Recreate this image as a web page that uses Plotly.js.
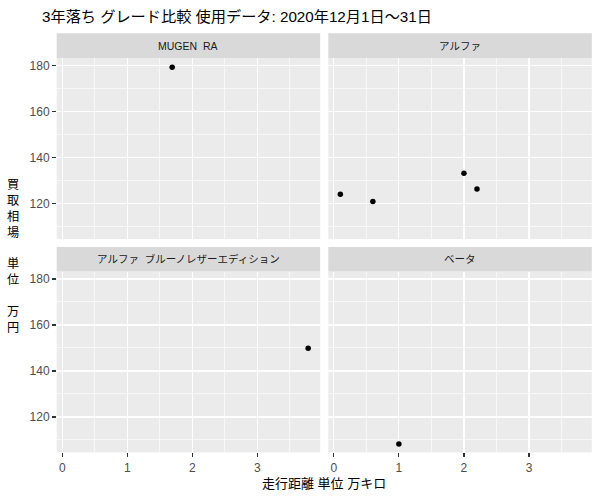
<!DOCTYPE html>
<html>
<head>
<meta charset="utf-8">
<script src="https://cdn.plot.ly/plotly-3.0.1.min.js"></script>
<style>html,body{margin:0;padding:0;background:#fff;}#chart{width:600px;height:500px;}</style>
</head>
<body>
<div id="chart"></div>
<script>
// ---- data ----
const grades = ['MUGEN\u00A0\u00A0RA', 'アルファ', 'アルファ\u00A0\u00A0ブルーノレザーエディション', 'ベータ'];
const mugenX = [1.69];
const mugenY = [179.3];
const alphaX = [0.1, 0.6, 2.0, 2.2];
const alphaY = [124.1, 121.0, 133.2, 126.4];
const blueX = [3.78];
const blueY = [149.9];
const betaX = [1.0];
const betaY = [108.3];
const xTickVals = [0, 1, 2, 3];
const yTickVals = [120, 140, 160, 180];
const titleText = '3年落ち グレード比較 使用データ: 2020年12月1日～31日';
const xTitle = '走行距離 単位 万キロ';
const yTitle = '買<br>取<br>相<br>場<br><br>単<br>位<br><br>万<br>円';

const W = 600, H = 500;
const FONT = 'Liberation Sans, Arial, Noto Sans CJK JP, sans-serif';
const px = v => v / W;
const py = v => 1 - v / H;

const colL = [px(56.7), px(320.2)], colR = [px(328.3), px(591.8)];
const rowT = [py(239.1), py(58.3)], rowB = [py(452.4), py(271.6)];
const stripT = [py(58.3), py(33.3)], stripB = [py(271.6), py(247)];
const xRange = [-0.085, 3.965], yRange = [104.6, 183.2];

const series = [[mugenX, mugenY], [alphaX, alphaY], [blueX, blueY], [betaX, betaY]];
const axisIds = ['', '2', '3', '4'];
const traces = series.map((s, i) => ({
  type: 'scatter', mode: 'markers', x: s[0], y: s[1],
  xaxis: 'x' + axisIds[i], yaxis: 'y' + axisIds[i],
  marker: {color: '#000000', size: 5.5}, showlegend: false, hoverinfo: 'skip'
}));

function xa(domain, showLabels) {
  return {
    domain: domain, range: xRange,
    tickvals: xTickVals, ticktext: xTickVals.map(String),
    showticklabels: showLabels, ticks: showLabels ? 'outside' : '',
    ticklen: 3.7, tickwidth: 1.1, tickcolor: '#333333',
    tickfont: {family: FONT, size: 12, color: '#4D4D4D'},
    showgrid: true, gridcolor: '#FFFFFF', gridwidth: 1.2,
    minor: {dtick: 0.5, tick0: 0.5, showgrid: true, gridcolor: '#FFFFFF', gridwidth: 0.6, ticks: ''},
    zeroline: false, showline: false, fixedrange: true
  };
}
function ya(domain, showLabels) {
  return {
    domain: domain, range: yRange,
    tickvals: yTickVals, ticktext: yTickVals.map(String),
    showticklabels: showLabels, ticks: showLabels ? 'outside' : '',
    ticklen: 3.7, tickwidth: 1.1, tickcolor: '#333333',
    tickfont: {family: FONT, size: 12, color: '#4D4D4D'},
    showgrid: true, gridcolor: '#FFFFFF', gridwidth: 1.2,
    minor: {dtick: 20, tick0: 110, showgrid: true, gridcolor: '#FFFFFF', gridwidth: 0.6, ticks: ''},
    zeroline: false, showline: false, fixedrange: true
  };
}

const layout = {
  width: W, height: H,
  margin: {l: 0, r: 0, t: 0, b: 0},
  paper_bgcolor: '#FFFFFF', plot_bgcolor: '#EBEBEB',
  font: {family: FONT, color: '#000000'},
  title: {text: titleText, x: 42 / W, xanchor: 'left', xref: 'container',
          y: 1 - 17 / H, yanchor: 'middle', yref: 'container',
          font: {family: FONT, size: 15.2, color: '#000000'}},
  xaxis:  Object.assign(xa(colL, false), {anchor: 'y'}),
  yaxis:  Object.assign(ya(rowT, true), {anchor: 'x'}),
  xaxis2: Object.assign(xa(colR, false), {anchor: 'y2'}),
  yaxis2: Object.assign(ya(rowT, false), {anchor: 'x2'}),
  xaxis3: Object.assign(xa(colL, true), {anchor: 'y3'}),
  yaxis3: Object.assign(ya(rowB, true), {anchor: 'x3'}),
  xaxis4: Object.assign(xa(colR, true), {anchor: 'y4'}),
  yaxis4: Object.assign(ya(rowB, false), {anchor: 'x4'}),
  shapes: [
    [colL, stripT], [colR, stripT], [colL, stripB], [colR, stripB]
  ].map(d => ({type: 'rect', xref: 'paper', yref: 'paper', x0: d[0][0], x1: d[0][1], y0: d[1][0], y1: d[1][1],
               fillcolor: '#D9D9D9', line: {width: 0}, layer: 'below'})),
  annotations: [
    ...[[colL, stripT], [colR, stripT], [colL, stripB], [colR, stripB]].map((d, i) => ({
      text: grades[i], xref: 'paper', yref: 'paper', showarrow: false,
      x: (d[0][0] + d[0][1]) / 2, y: (d[1][0] + d[1][1]) / 2, xanchor: 'center', yanchor: 'middle',
      font: {family: FONT, size: 10.5, color: '#1A1A1A'}
    })),
    {text: xTitle, xref: 'paper', yref: 'paper', showarrow: false,
     x: (colL[0] + colR[1]) / 2, y: py(483), xanchor: 'center', yanchor: 'middle',
     font: {family: FONT, size: 13, color: '#000000'}},
    {text: yTitle, xref: 'paper', yref: 'paper', showarrow: false,
     x: px(13), y: py(256), xanchor: 'center', yanchor: 'middle', align: 'center',
     font: {family: FONT, size: 12.2, color: '#000000'}}
  ]
};

Plotly.newPlot('chart', traces, layout, {staticPlot: true, displayModeBar: false});
</script>
</body>
</html>
